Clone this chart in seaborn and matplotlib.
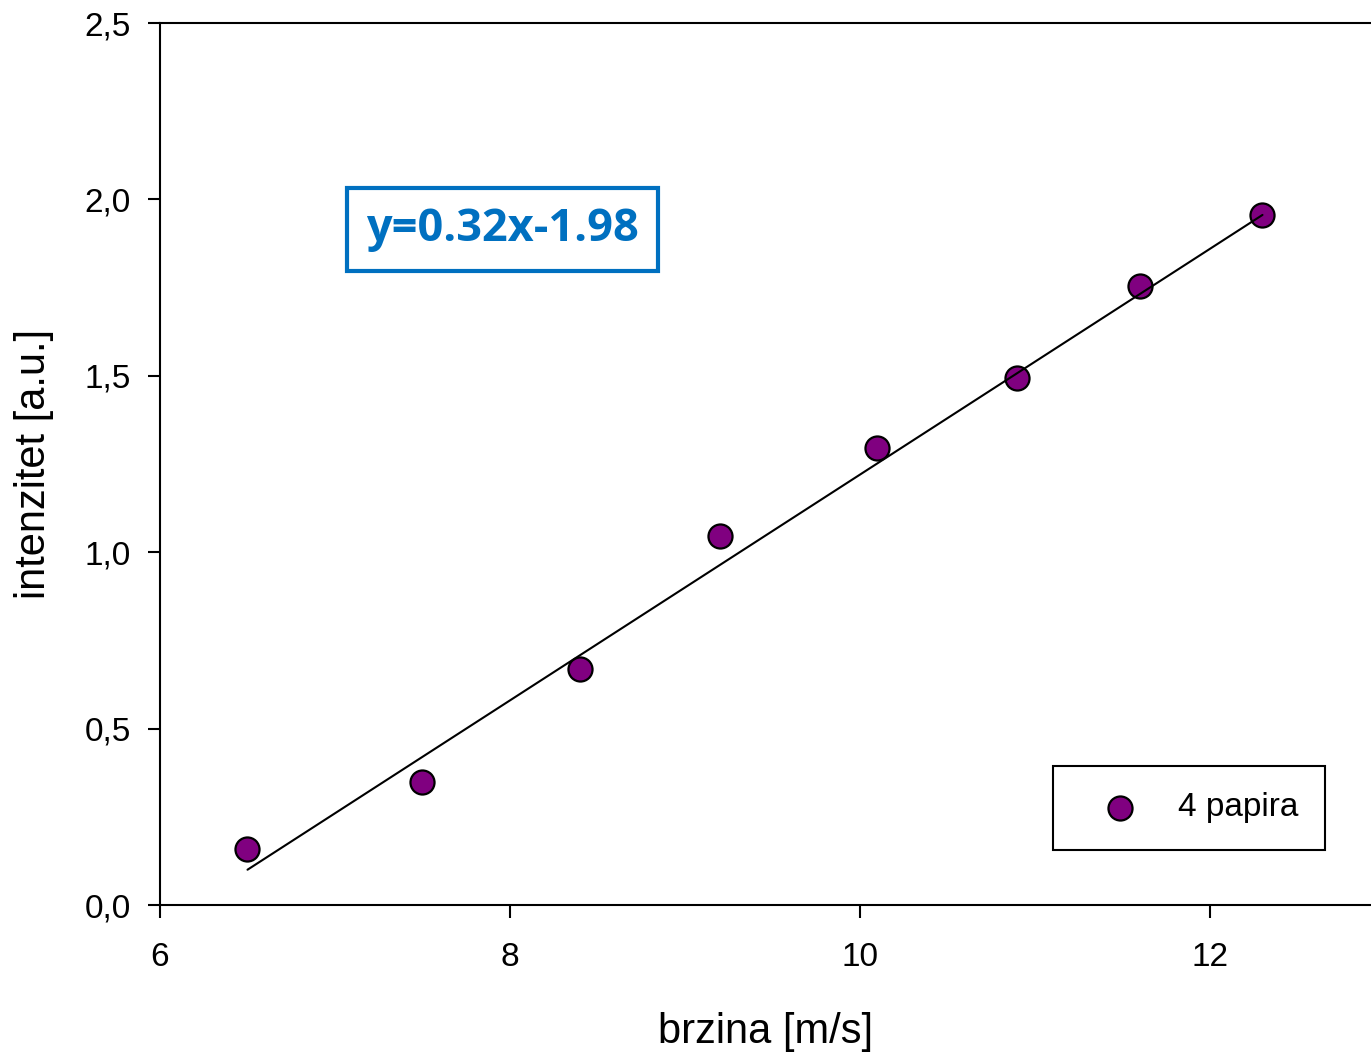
import numpy as np
import pandas as pd
import matplotlib
matplotlib.use('Agg')
import matplotlib.pyplot as plt
import seaborn as sns

# --- DATA ---
brzina = [6.5, 7.5, 8.4, 9.2, 10.1, 10.9, 11.6, 12.3]
intenzitet = [0.16, 0.35, 0.67, 1.045, 1.295, 1.495, 1.755, 1.955]
slope, intercept = 0.32, -1.98
series_label = '4 papira'
eq_text = 'y=0.32x-1.98'
yticks = [0.0, 0.5, 1.0, 1.5, 2.0, 2.5]
xticks = [6, 8, 10, 12]

df = pd.DataFrame({'brzina': brzina, 'intenzitet': intenzitet})

# --- STYLE ---
sns.set_style('ticks', rc={'text.color': 'black', 'axes.labelcolor': 'black',
                           'xtick.color': 'black', 'ytick.color': 'black',
                           'axes.edgecolor': 'black'})
plt.rcParams['font.family'] = ['Liberation Sans', 'DejaVu Sans']

fig = plt.figure(figsize=(13.71, 10.52), dpi=100)
ax = fig.add_axes([160 / 1371, 1 - 905 / 1052, 1 - 160 / 1371, (905 - 23) / 1052])

# --- PLOT ---
sns.scatterplot(data=df, x='brzina', y='intenzitet', ax=ax, s=300,
                color='#800080', edgecolor='black', linewidth=1.6,
                label=series_label, zorder=3)
xfit = np.array([min(brzina), max(brzina)])
ax.plot(xfit, slope * xfit + intercept, color='black', lw=1.5, zorder=4)

ax.set_xlim(6, 6 + (1371 - 160) / 175)
ax.set_ylim(0, 2.5)
ax.set_xticks(xticks)
ax.set_yticks(yticks)
ax.set_yticklabels([f'{v:.1f}'.replace('.', ',') for v in yticks])
ax.tick_params(direction='out', length=9, width=1.5, labelsize=24)
ax.tick_params(axis='x', pad=18)
ax.tick_params(axis='y', pad=12)
for s in ax.spines.values():
    s.set_linewidth(1.5)
ax.spines['right'].set_visible(False)

ax.set_xlabel('brzina [m/s]', fontsize=30, labelpad=28)
ax.set_ylabel('intenzitet [a.u.]', fontsize=30, labelpad=22)

leg = ax.legend(loc='lower right', bbox_to_anchor=((1325 - 160) / 1211, 55 / 882),
                fontsize=24, frameon=True, fancybox=False, borderpad=0.8,
                handlelength=2.4, handletextpad=0.55, borderaxespad=0)
leg.get_frame().set_edgecolor('black')
leg.get_frame().set_linewidth(1.5)
leg.get_frame().set_alpha(1)

ax.text(7.955, 1.915, eq_text, fontsize=32.5, fontweight='bold', color='#0070C0',
        family=['Open Sans', 'DejaVu Sans'], va='center', ha='center',
        bbox=dict(boxstyle='square,pad=0.42', fc='white', ec='#0070C0', lw=3))

fig.savefig('out.png', dpi=100)
